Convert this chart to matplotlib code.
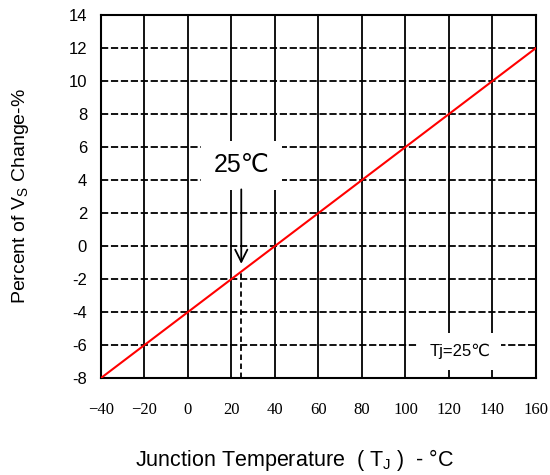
import matplotlib.pyplot as plt
import numpy as np

plt.rcParams['font.family'] = ['Liberation Sans', 'DejaVu Sans']
plt.rcParams['mathtext.fontset'] = 'custom'
plt.rcParams['mathtext.rm'] = 'Liberation Sans'
plt.rcParams['mathtext.it'] = 'Liberation Sans'

# ---- data --------------------------------------------------------
temp_c     = [-40, 160]          # junction temperature endpoints
vs_change  = [-8, 12]            # percent change of Vs
ref_temp   = 24.5                # marked reference point
ref_change = -1.55
x_ticks = [-40, -20, 0, 20, 40, 60, 80, 100, 120, 140, 160]
y_ticks = [-8, -6, -4, -2, 0, 2, 4, 6, 8, 10, 12, 14]

fig = plt.figure(figsize=(5.5, 4.75), dpi=100)
ax = fig.add_axes([0.1836, 0.2042, 0.7909, 0.7642])

# grid: solid verticals, dashed horizontals
for xv in x_ticks[1:-1]:
    ax.axvline(xv, color='black', lw=1.3, zorder=1)
for yv in y_ticks[1:-1]:
    ax.axhline(yv, color='black', lw=1.3, ls=(0, (4, 1.5)), zorder=1)

ax.plot(temp_c, vs_change, color='#ff0000', lw=1.5, zorder=3)

ax.set_xlim(-40, 160)
ax.set_ylim(-8, 14)
ax.set_xticks(x_ticks)
ax.set_yticks(y_ticks)
ax.set_xticklabels([f"{v}".replace('-', '\u2212') for v in x_ticks],
                   family=['Liberation Serif', 'DejaVu Serif'], fontsize=12)
ax.set_yticklabels([str(v) for v in y_ticks], fontsize=12)
ax.tick_params(axis='both', length=0)
ax.tick_params(axis='x', pad=17)
ax.tick_params(axis='y', pad=10)
for s in ax.spines.values():
    s.set_linewidth(1.5)

# 25 degC annotation
ax.text(ref_temp, 4.9, '25\u2103', fontsize=18, ha='center', va='center',
        bbox=dict(facecolor='white', edgecolor='none', pad=9), zorder=4)
ax.annotate('', xy=(ref_temp, ref_change + 0.3), xytext=(ref_temp, 3.6),
            arrowprops=dict(arrowstyle='->', color='black', lw=1.3,
                            mutation_scale=22), zorder=4)
ax.plot([ref_temp, ref_temp], [-8, ref_change], color='black',
        lw=1.3, ls=(0, (3, 2)), zorder=2)

ax.text(125, -6.4, 'Tj=25\u2103', fontsize=12, ha='center', va='center',
        bbox=dict(facecolor='white', edgecolor='none', pad=8), zorder=4)

ax.set_xlabel('Junction Temperature  ( T$_\\mathregular{J}$ )  - \u00b0C',
              fontsize=15.5)
ax.xaxis.set_label_coords(0.446, -0.19)
ax.set_ylabel('Percent of V$_\\mathregular{S}$ Change-%', fontsize=14,
              labelpad=27)

fig.savefig('out.png', dpi=100)
